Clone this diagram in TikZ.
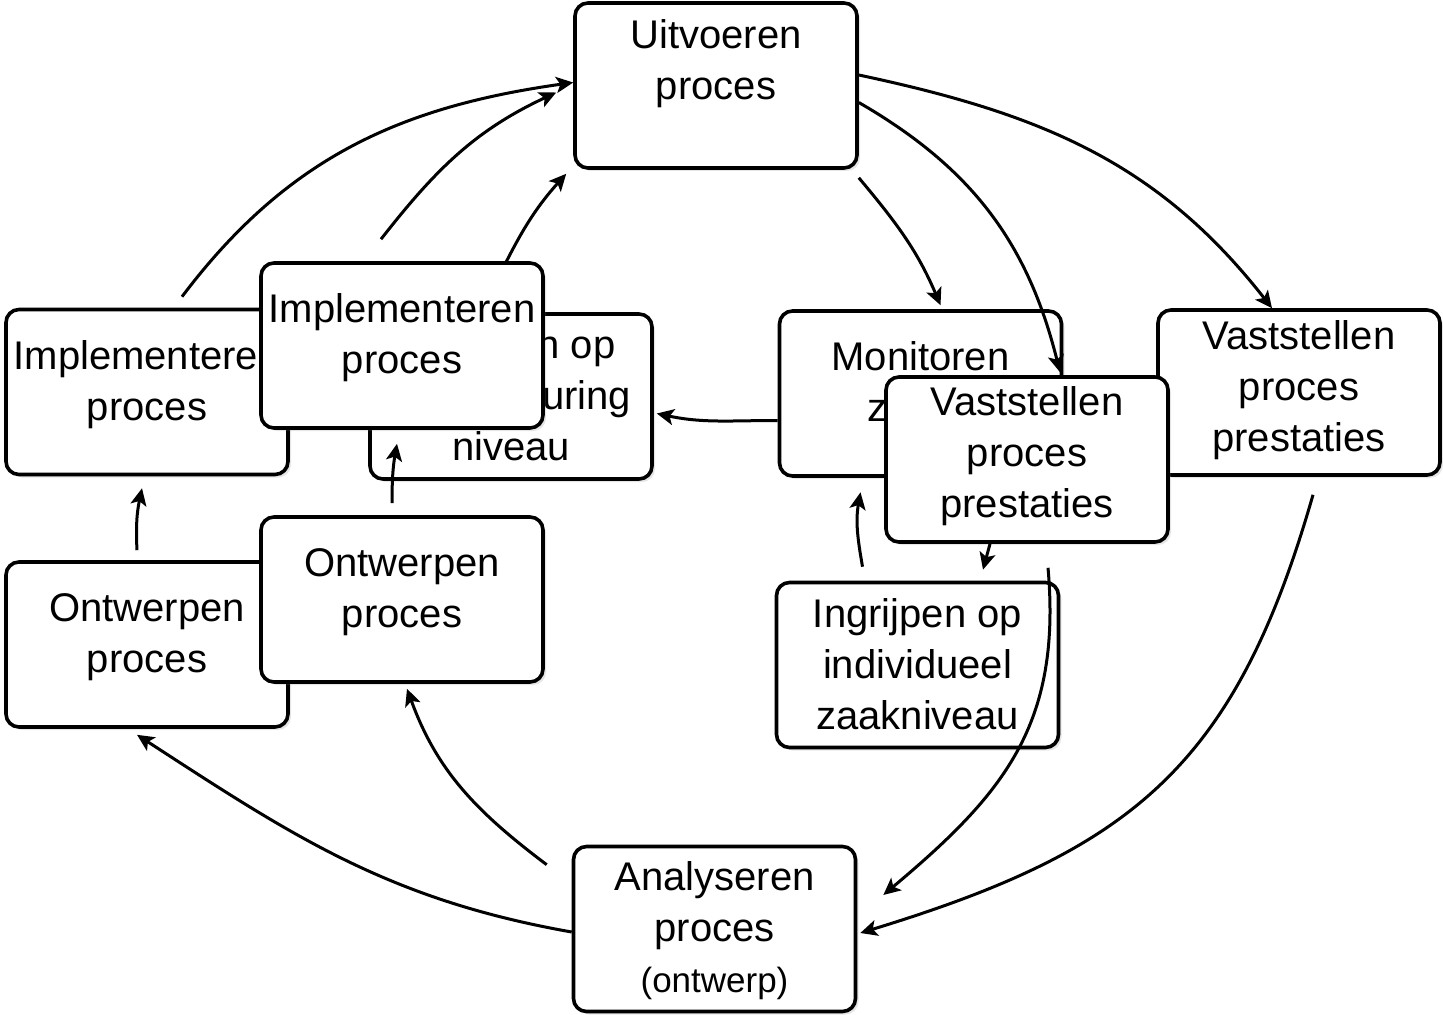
\documentclass[tikz,border=0pt]{standalone}
\usepackage{fontspec}
\setmainfont{Liberation Sans}
\usetikzlibrary{arrows.meta, shadows}

\tikzset{
	stap/.style = {draw, fill = white, line width = 1.8pt, rounded corners = 6.5pt,
		minimum width = 141pt, minimum height = 82.5pt, inner sep = 0pt, align = center,
		font = \fontsize{20pt}{25.5pt}\selectfont, text depth = 11.5pt,
		drop shadow = {shadow xshift = 1.5pt, shadow yshift = -1.5pt, opacity = 0.2}},
	pijl/.style = {-{Stealth[length = 8.5pt, width = 8pt, inset = 2pt]}, line width = 1.5pt},
}

\begin{document}
\begin{tikzpicture}[x = 0.5pt, y = 0.5pt]
	\useasboundingbox (0, 0) rectangle (1443, 1014);

	% Stappen
	\node [stap, text depth = 26pt] (uitvoeren) at (716, 928.5) {Uitvoeren\\proces};
	\node [stap, text depth = 1.6pt] (sturen) at (511, 617.5) {Ingrijpen op\\processturing\\niveau};
	\draw [pijl] ([shift = {(-30, 0)}]sturen.north) to [out = 63, in = 228] ([shift = {(-7, -4)}]uitvoeren.south west);
	\node [stap] (implL) at (147, 622) {Implementeren\\proces};
	\node [stap] (implM) at (402, 668.5) {Implementeren\\proces};
	\node [stap] (ontwL) at (147, 369.5) {Ontwerpen\\proces};
	\node [stap] (ontwM) at (402, 414.5) {Ontwerpen\\proces};
	\node [stap] (monitoren) at (920.5, 620.5) {Monitoren\\zaken};
	\node [stap, text depth = 6.6pt] (vastR) at (1299, 621.5) {Vaststellen\\proces\\prestaties};
	\node [stap, text depth = 7pt] (vastM) at (1027, 554.5) {Vaststellen\\proces\\prestaties};
	\node [stap, text depth = 1pt] (ingrijpen) at (917.5, 349) {Ingrijpen op\\individueel\\zaakniveau};
	\node [stap, text depth = 2pt] (analyse) at (714.5, 85) {Analyseren\\proces\\{\fontsize{17.5pt}{21pt}\selectfont (ontwerp)}};

	% Pijlen naar uitvoeren
	\draw [pijl] ([shift = {(35, 11)}]implL.north) to [out = 53, in = 188] ([shift = {(0, 3)}]uitvoeren.west);
	\draw [pijl] ([shift = {(-21, 22)}]implM.north) to [out = 52, in = 205] ([shift = {(-17, -7)}]uitvoeren.west);

	% Pijlen vanuit uitvoeren
	\draw [pijl] ([shift = {(0, 10.5)}]uitvoeren.east) to [out = -12, in = 128] ([shift = {(-27, 0)}]vastR.north);
	\draw [pijl] ([shift = {(0, -17)}]uitvoeren.east) to [out = -30, in = 104] ([shift = {(33, 3)}]vastM.north);
	\draw [pijl] ([shift = {(0, -8)}]uitvoeren.south east) to [out = -50, in = 113] ([shift = {(20, 4)}]monitoren.north);

	% Rechterkant
	\draw [pijl] ([shift = {(0, -27)}]monitoren.west) to [out = 180, in = -12] ([shift = {(3, -17)}]sturen.east);
	\draw [pijl] ([shift = {(14, -18)}]vastR.south) to [out = -106, in = 17, looseness = 1.15] ([shift = {(3, -4)}]analyse.east);
	\draw [pijl] ([shift = {(21, -24)}]vastM.south) to [out = -85, in = 40, looseness = 1.1] ([shift = {(26, 34)}]analyse.east);
	\draw [pijl] ([shift = {(-37, 0)}]vastM.south) -- ([shift = {(65.5, 11)}]ingrijpen.north);
	\draw [pijl] ([shift = {(-55, 14)}]ingrijpen.north) to [out = 100, in = -100] ([shift = {(-60, -14.5)}]monitoren.south);

	% Linkerkant
	\draw [pijl] ([shift = {(0, -3)}]analyse.west) to [out = 170, in = -33] ([shift = {(-10, -6)}]ontwL.south);
	\draw [pijl] ([shift = {(-25, -20)}]analyse.north west) to [out = 143, in = -70] ([shift = {(5, -5)}]ontwM.south);
	\draw [pijl] ([shift = {(-10, 10)}]ontwL.north) to [out = 93, in = -102] ([shift = {(-5, -12)}]implL.south);
	\draw [pijl] ([shift = {(-10, 12)}]ontwM.north) to [out = 90, in = -100] ([shift = {(-5, -14)}]implM.south);
\end{tikzpicture}
\end{document}
